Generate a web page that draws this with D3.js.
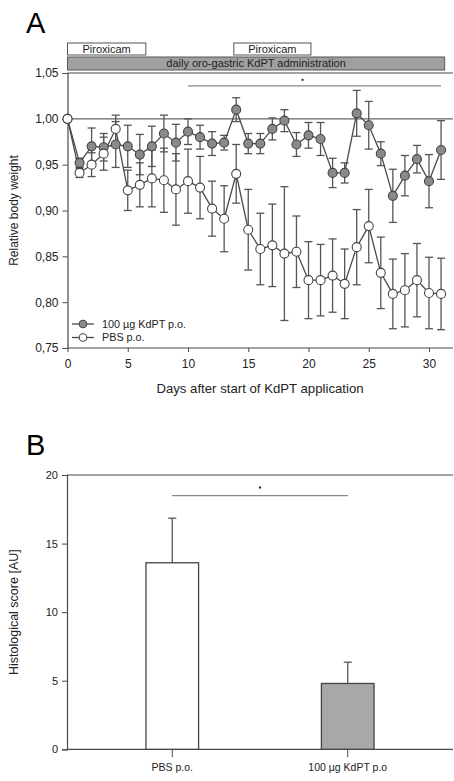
<!DOCTYPE html>
<html><head><meta charset="utf-8">
<script src="https://cdn.jsdelivr.net/npm/d3@7"></script>
<style>body{margin:0;background:#fff}svg{display:block;font-family:"Liberation Sans",Arial,sans-serif}</style>
</head><body><svg id="c" width="454" height="781"></svg>
<script>
// ---------- Data: Panel A ----------
const days = [0,1,2,3,4,5,6,7,8,9,10,11,12,13,14,15,16,17,18,19,20,21,22,23,24,25,26,27,28,29,30,31];
const kdptMean = [1.000,0.952,0.970,0.969,0.972,0.970,0.961,0.970,0.984,0.974,0.986,0.980,0.973,0.974,1.010,0.973,0.973,0.989,0.998,0.972,0.982,0.978,0.941,0.941,1.006,0.993,0.962,0.916,0.938,0.956,0.932,0.966];
const kdptErr  = [0.000,0.005,0.020,0.015,0.025,0.023,0.022,0.022,0.020,0.020,0.014,0.013,0.013,0.008,0.013,0.011,0.011,0.012,0.012,0.013,0.014,0.018,0.016,0.011,0.025,0.026,0.013,0.029,0.022,0.015,0.029,0.032];
const pbsMean  = [1.000,0.941,0.950,0.962,0.989,0.922,0.928,0.935,0.933,0.923,0.932,0.925,0.902,0.891,0.940,0.879,0.858,0.862,0.853,0.855,0.824,0.824,0.829,0.820,0.860,0.883,0.832,0.809,0.813,0.824,0.810,0.809];
const pbsErr   = [0.000,0.005,0.013,0.018,0.015,0.022,0.024,0.031,0.035,0.039,0.035,0.034,0.030,0.036,0.032,0.044,0.039,0.045,0.073,0.039,0.042,0.039,0.040,0.038,0.041,0.040,0.039,0.038,0.040,0.040,0.039,0.039];
const seriesNames = ["100 µg KdPT p.o.","PBS p.o."];
const yTicksA = [0.75,0.80,0.85,0.90,0.95,1.00,1.05];
const xTicksA = [0,5,10,15,20,25,30];
const piroxicamPeriods = [[0,6.5],[13.8,20.2]];
const adminPeriod = [0,31.3];
const sigA = {from:10, to:31, y:1.036};

// ---------- Data: Panel B ----------
const groups = ["PBS p.o.","100 µg KdPT p.o"];
const scores = [13.6, 4.8];
const scoreErr = [3.25, 1.55];
const yTicksB = [0,5,10,15,20];
const sigB = {y:18.5};

const svg = d3.select("#c");
const fmtComma = d => d3.format(".2f")(d).replace(".", ",");
const dark = "#4a4a4a";

// ================= PANEL A =================
const xA = d3.scaleLinear().domain([0,32]).range([67.5,453.1]);
const yA = d3.scaleLinear().domain([0.75,1.05]).range([348,73]);
const gA = svg.append("g");

gA.append("text").attr("x",26).attr("y",33).attr("font-size",29).text("A");

piroxicamPeriods.forEach(p=>{
  gA.append("rect").attr("x",xA(p[0])).attr("y",43).attr("width",xA(p[1])-xA(p[0])).attr("height",12)
    .attr("fill","#fff").attr("stroke","#555").attr("stroke-width",1);
  gA.append("text").attr("x",(xA(p[0])+xA(p[1]))/2).attr("y",52.8).attr("text-anchor","middle")
    .attr("font-size",11).attr("fill","#222").text("Piroxicam");
});
gA.append("rect").attr("x",xA(adminPeriod[0])).attr("y",57).attr("width",xA(adminPeriod[1])-xA(adminPeriod[0])).attr("height",13)
  .attr("fill","#a0a0a0").attr("stroke","#555").attr("stroke-width",1);
gA.append("text").attr("x",(xA(adminPeriod[0])+xA(adminPeriod[1]))/2).attr("y",67.3).attr("text-anchor","middle")
  .attr("font-size",11).attr("fill","#222").text("daily oro-gastric KdPT administration");

gA.append("line").attr("x1",xA(0)).attr("x2",453).attr("y1",yA(1.05)).attr("y2",yA(1.05)).attr("stroke",dark).attr("stroke-width",1.2);
gA.append("line").attr("x1",xA(0)).attr("x2",453).attr("y1",yA(1)).attr("y2",yA(1)).attr("stroke","#666").attr("stroke-width",1.2);

const axYA = gA.append("g").attr("transform",`translate(${xA(0)},0)`)
  .call(d3.axisLeft(yA).tickValues(yTicksA).tickFormat(fmtComma).tickSize(5).tickPadding(4));
const axXA = gA.append("g").attr("transform",`translate(0,${yA(0.75)})`)
  .call(d3.axisBottom(xA).tickValues(xTicksA).tickSize(4).tickPadding(7));
[axYA,axXA].forEach(a=>{
  a.select(".domain").attr("stroke",dark).attr("stroke-width",1.2);
  a.selectAll(".tick line").attr("stroke",dark);
  a.selectAll("text").attr("font-size",12).attr("fill","#222").attr("font-family","Liberation Sans, Arial, sans-serif");
});
axXA.select(".domain").attr("d",`M${xA(0)},0H453`);
gA.append("text").attr("x",260).attr("y",393).attr("text-anchor","middle").attr("font-size",13.2).attr("fill","#222")
  .text("Days after start of KdPT application");
gA.append("text").attr("transform",`translate(18,${(yA(0.75)+yA(1.05))/2}) rotate(-90)`).attr("text-anchor","middle")
  .attr("font-size",12).attr("fill","#222").text("Relative body weight");

gA.append("line").attr("x1",xA(sigA.from)).attr("x2",xA(sigA.to)).attr("y1",yA(sigA.y)).attr("y2",yA(sigA.y)).attr("stroke","#888").attr("stroke-width",1.3);
gA.append("circle").attr("cx",(xA(sigA.from)+xA(sigA.to))/2 - 12).attr("cy",yA(sigA.y)-6).attr("r",1.2).attr("fill","#333");

function drawSeries(mean, err){
  const data = days.map((d,i)=>({d, m:mean[i], e:err[i]}));
  const eb = gA.append("g").attr("stroke","#555").attr("stroke-width",1.3);
  data.filter(p=>p.e>0).forEach(p=>{
    const x = xA(p.d);
    eb.append("line").attr("x1",x).attr("x2",x).attr("y1",yA(p.m+p.e)).attr("y2",yA(p.m-p.e));
    eb.append("line").attr("x1",x-4).attr("x2",x+4).attr("y1",yA(p.m+p.e)).attr("y2",yA(p.m+p.e));
    eb.append("line").attr("x1",x-4).attr("x2",x+4).attr("y1",yA(p.m-p.e)).attr("y2",yA(p.m-p.e));
  });
  return data;
}
const kd = drawSeries(kdptMean, kdptErr);
const pb = drawSeries(pbsMean, pbsErr);
const line = d3.line().x(p=>xA(p.d)).y(p=>yA(p.m));
[kd,pb].forEach(data=>{
  gA.append("path").datum(data).attr("d",line).attr("fill","none").attr("stroke",dark).attr("stroke-width",1.3);
});
[[kd,"#8a8a8a"],[pb,"#fff"]].forEach(([data,fill])=>{
  gA.selectAll(null).data(data).enter().append("circle").attr("cx",p=>xA(p.d)).attr("cy",p=>yA(p.m))
    .attr("r",4.5).attr("fill",fill).attr("stroke","#444").attr("stroke-width",1.1);
});

const legFills = ["#8a8a8a","#fff"];
seriesNames.forEach((n,i)=>{
  const y = 324 + i*13.5;
  gA.append("line").attr("x1",72).attr("x2",94).attr("y1",y).attr("y2",y).attr("stroke",dark).attr("stroke-width",1.3);
  gA.append("circle").attr("cx",83).attr("cy",y).attr("r",3.8).attr("fill",legFills[i]).attr("stroke","#444").attr("stroke-width",1.1);
  gA.append("text").attr("x",102).attr("y",y+3.8).attr("font-size",10.8).attr("fill","#222").text(n);
});

// ================= PANEL B =================
const yB = d3.scaleLinear().domain([0,20]).range([749.3,475]);
const xB = d3.scaleBand().domain(groups).range([67,453]).paddingInner(0.7).paddingOuter(0.45);
const gB = svg.append("g");
gB.append("text").attr("x",26).attr("y",455).attr("font-size",29).text("B");
gB.append("line").attr("x1",67).attr("x2",453).attr("y1",yB(20)).attr("y2",yB(20)).attr("stroke",dark).attr("stroke-width",1.2);

const axYB = gB.append("g").attr("transform","translate(67,0)")
  .call(d3.axisLeft(yB).tickValues(yTicksB).tickSize(5).tickPadding(4));
const axXB = gB.append("g").attr("transform",`translate(0,${yB(0)})`)
  .call(d3.axisBottom(xB).tickSize(8).tickPadding(6));
[axYB,axXB].forEach(a=>{
  a.select(".domain").attr("stroke",dark).attr("stroke-width",1.2);
  a.selectAll(".tick line").attr("stroke",dark);
  a.selectAll("text").attr("fill","#222").attr("font-family","Liberation Sans, Arial, sans-serif");
});
axYB.selectAll("text").attr("font-size",11);
axXB.selectAll("text").attr("font-size",10.5);
axXB.select(".domain").attr("d","M67,0H453");
gB.append("text").attr("transform",`translate(18,${(yB(0)+yB(20))/2}) rotate(-90)`).attr("text-anchor","middle")
  .attr("font-size",12.5).attr("fill","#222").text("Histological score [AU]");

const barFills = ["#fff","#a8a8a8"];
groups.forEach((g,i)=>{
  const cx = xB(g)+xB.bandwidth()/2;
  gB.append("line").attr("x1",cx).attr("x2",cx).attr("y1",yB(scores[i])).attr("y2",yB(scores[i]+scoreErr[i])).attr("stroke","#555").attr("stroke-width",1.3);
  gB.append("line").attr("x1",cx-4).attr("x2",cx+4).attr("y1",yB(scores[i]+scoreErr[i])).attr("y2",yB(scores[i]+scoreErr[i])).attr("stroke","#555").attr("stroke-width",1.3);
  gB.append("rect").attr("x",xB(g)).attr("y",yB(scores[i])).attr("width",xB.bandwidth()).attr("height",yB(0)-yB(scores[i]))
    .attr("fill",barFills[i]).attr("stroke","#444").attr("stroke-width",1.3);
});
const c1 = xB(groups[0])+xB.bandwidth()/2, c2 = xB(groups[1])+xB.bandwidth()/2;
gB.append("line").attr("x1",c1).attr("x2",c2).attr("y1",yB(sigB.y)).attr("y2",yB(sigB.y)).attr("stroke","#888").attr("stroke-width",1.3);
gB.append("circle").attr("cx",(c1+c2)/2).attr("cy",yB(sigB.y)-8).attr("r",1.2).attr("fill","#333");
</script></body></html>
